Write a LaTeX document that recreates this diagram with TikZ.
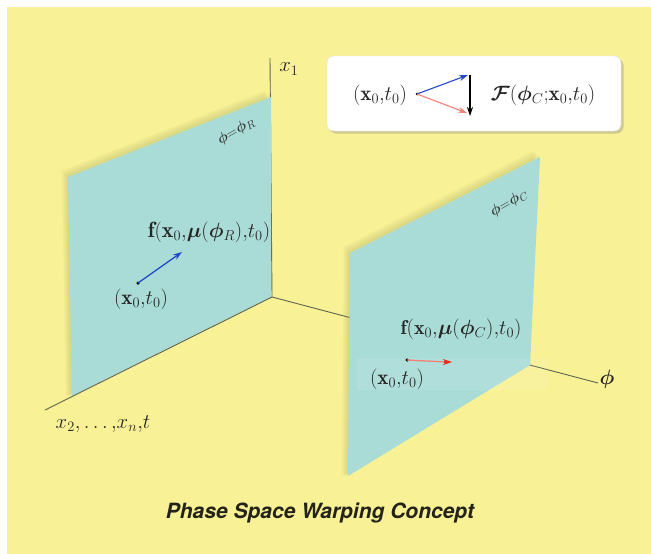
\documentclass[tikz,border=0pt]{standalone}
\usepackage{amsmath,bm}
\usepackage{fontspec}
\newfontfamily\titlefont{TeX Gyre Heros}
\usetikzlibrary{arrows.meta,shadows}
\definecolor{bgyellow}{RGB}{248,241,150}
\definecolor{panelblue}{RGB}{170,220,215}
\definecolor{arrblue}{RGB}{35,75,200}
\definecolor{arrred}{RGB}{235,45,30}
\definecolor{axisgray}{RGB}{95,100,80}
\definecolor{shadowol}{RGB}{140,150,80}
\definecolor{titlecol}{RGB}{35,35,25}
\tikzset{
  lab/.style={font=\fontsize{21}{25}\selectfont, inner sep=0pt, text=black!85},
  flab/.style={font=\fontsize{#1}{26}\selectfont, inner sep=0pt, text=black!85},
  plab/.style={font=\fontsize{15}{18}\selectfont, inner sep=0pt, rotate=30, text=black!80},
  axisline/.style={draw=axisgray, line width=0.9pt},
  panel/.style={fill=panelblue},
  pshadow/.style={fill=shadowol, opacity=0.09},
  vec/.style={line width=1.3pt, -{Stealth[length=9pt,width=6pt]}},
  dotn/.style={circle, fill=black, inner sep=0pt, minimum size=3.5pt},
}
\begin{document}
\begin{tikzpicture}[x=1pt,y=-1pt]
\useasboundingbox (0,0) rectangle (651,554);
\fill[white] (0,0) rectangle (651,554);
\fill[bgyellow] (7,7) rectangle (651,554);

% axes
\coordinate (O) at (272,297);
\coordinate (x1end) at (270,58);
\coordinate (phiend) at (598,383);
\coordinate (x2end) at (45,410);
\draw[axisline] (O) -- (x1end);
\draw[axisline] (O) -- (phiend);

% left panel
\foreach \s in {6,4,2}{
  \fill[pshadow] ([shift={(-\s,-\s)}]68,177) -- ([shift={(-\s,-\s)}]271,97) -- (271,297) -- ([shift={(-\s,0)}]72,396) -- cycle;
}
\fill[panel] (68,177) -- (271,97) -- (271,297) -- (72,396) -- cycle;
\draw[axisline] (O) -- (x2end);

% right panel
\foreach \s in {6,4,2}{
  \fill[pshadow] ([shift={(-\s,-\s)}]350,253) -- ([shift={(-\s,-\s)}]540,157) -- (530,365) -- ([shift={(-\s,0)}]348,476) -- cycle;
}
\fill[panel] (350,253) -- (540,157) -- (530,365) -- (348,476) -- cycle;
\fill[white,opacity=0.08] (357,358) rectangle (548,390);

% axis labels
\node[lab] (lx1) at (289,69) {$x_1$};
\node[lab] (lphi) at (607,379) {$\bm{\phi}$};
\node[lab] (lx2) at (103,424) {$x_2{,}\ldots{,}x_n{,}t$};

% left panel content
\node[plab] (pR) at (236,131) {$\bm{\phi}{=}\bm{\phi}_R$};
\node[flab=22] (fR) at (209,232) {$\mathbf{f}(\mathbf{x}_0{,}\bm{\mu}(\bm{\phi}_R){,}t_0)$};
\node[dotn] (dL) at (138,283) {};
\coordinate (aL) at (182,252);
\draw[vec, arrblue] (dL.center) -- (aL);
\node[lab] (xL) at (141,299) {$(\mathbf{x}_0{,}t_0)$};

% right panel content
\node[plab] (pC) at (509,203) {$\bm{\phi}{=}\bm{\phi}_C$};
\node[flab=20] (fC) at (461,329) {$\mathbf{f}(\mathbf{x}_0{,}\bm{\mu}(\bm{\phi}_C){,}t_0)$};
\node[dotn] (dR) at (407,360) {};
\coordinate (aR) at (452,362);
\draw[line width=1.3pt, arrred!60] (dR.center) -- ([shift={(-6,0)}]aR);
\draw[vec, arrred] ([shift={(-8,0)}]aR) -- (aR);
\node[lab] (xR) at (397,379) {$(\mathbf{x}_0{,}t_0)$};

% legend box
\node[draw=black!10, fill=white, rounded corners=7pt, minimum width=294pt, minimum height=75pt,
      drop shadow={shadow xshift=2.5pt, shadow yshift=-2.5pt, opacity=0.35, fill=black!50}] (box) at (474,93.5) {};
\node[lab] (bx) at (380,95) {$(\mathbf{x}_0{,}t_0)$};
\node[dotn, minimum size=3pt] (bd) at (417,94) {};
\coordinate (bb) at (468,75);
\coordinate (br) at (467,113);
\coordinate (bt) at (470,75);
\coordinate (bbot) at (470,116);
\draw[vec, arrblue, line width=1.1pt] (bd.center) -- (bb);
\draw[line width=1.1pt, arrred!60, -{Stealth[length=9pt,width=6pt]}] (bd.center) -- (br);
\draw[vec, black, line width=1.1pt] (bt) -- (bbot);
\node[lab] (bF) at (543,95) {$\bm{\mathcal{F}}(\bm{\phi}_C{;}\mathbf{x}_0{,}t_0)$};

% title
\node[inner sep=0pt, text=titlecol, font=\titlefont\fontsize{21}{25}\selectfont\bfseries\itshape] (title) at (320,513) {Phase Space Warping Concept};
\end{tikzpicture}
\end{document}
